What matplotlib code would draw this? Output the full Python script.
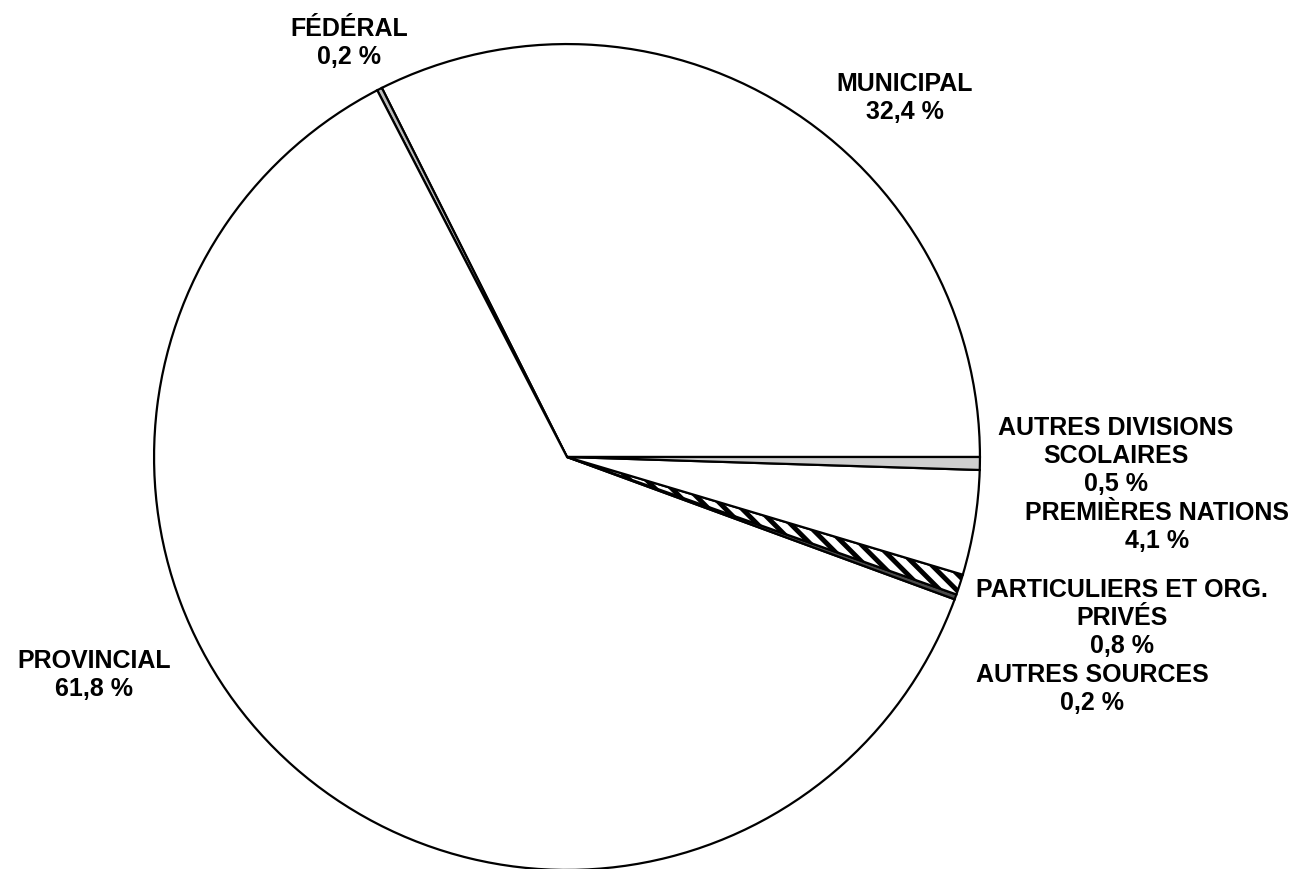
import matplotlib
matplotlib.use("Agg")
import matplotlib.pyplot as plt

# Données (en %), dans l'ordre anti-horaire à partir de 3 h
sources = ["MUNICIPAL", "FÉDÉRAL", "PROVINCIAL", "AUTRES SOURCES",
           "PARTICULIERS ET ORG.\nPRIVÉS", "PREMIÈRES NATIONS",
           "AUTRES DIVISIONS\nSCOLAIRES"]
pourcentages = [32.4, 0.2, 61.8, 0.2, 0.8, 4.1, 0.5]
etiquettes = ["32,4 %", "0,2 %", "61,8 %", "0,2 %", "0,8 %", "4,1 %", "0,5 %"]

couleurs = ["white", "#bdbdbd", "white", "#4a4a4a", "white", "white", "#cfcfcf"]
hachures = [None, None, None, None, "\\\\", None, None]

# position des étiquettes (pixels, centre du bloc)
pos_etiquettes = [(905, 98), (349, 43), (94, 675), (1092, 689),
                  (1122, 618), (1157, 527), (1116, 456)]

W, H = 1299, 869
plt.rcParams['font.family'] = ['Liberation Sans', 'DejaVu Sans']
plt.rcParams['hatch.linewidth'] = 3.5

fig = plt.figure(figsize=(W / 100, H / 100), dpi=100)
cx, cy, r = 567, 457, 415
ax = fig.add_axes([(cx - r) / W, (H - cy - r) / H, 2 * r / W, 2 * r / H])

wedges, _ = ax.pie(pourcentages, startangle=0, counterclock=True, radius=1,
                   colors=couleurs,
                   wedgeprops=dict(edgecolor="black", linewidth=1.6))
for w, h in zip(wedges, hachures):
    if h:
        w.set_hatch(h)

ax.set_xlim(-1.005, 1.005)
ax.set_ylim(-1.005, 1.005)
ax.axis("off")

for nom, val, (px, py) in zip(sources, etiquettes, pos_etiquettes):
    fig.text(px / W, 1 - py / H, f"{nom}\n{val}", ha="center", va="center",
             fontsize=18, fontweight="bold", linespacing=1.22,
             multialignment="center")

fig.savefig("out.png", dpi=100, facecolor="white")
